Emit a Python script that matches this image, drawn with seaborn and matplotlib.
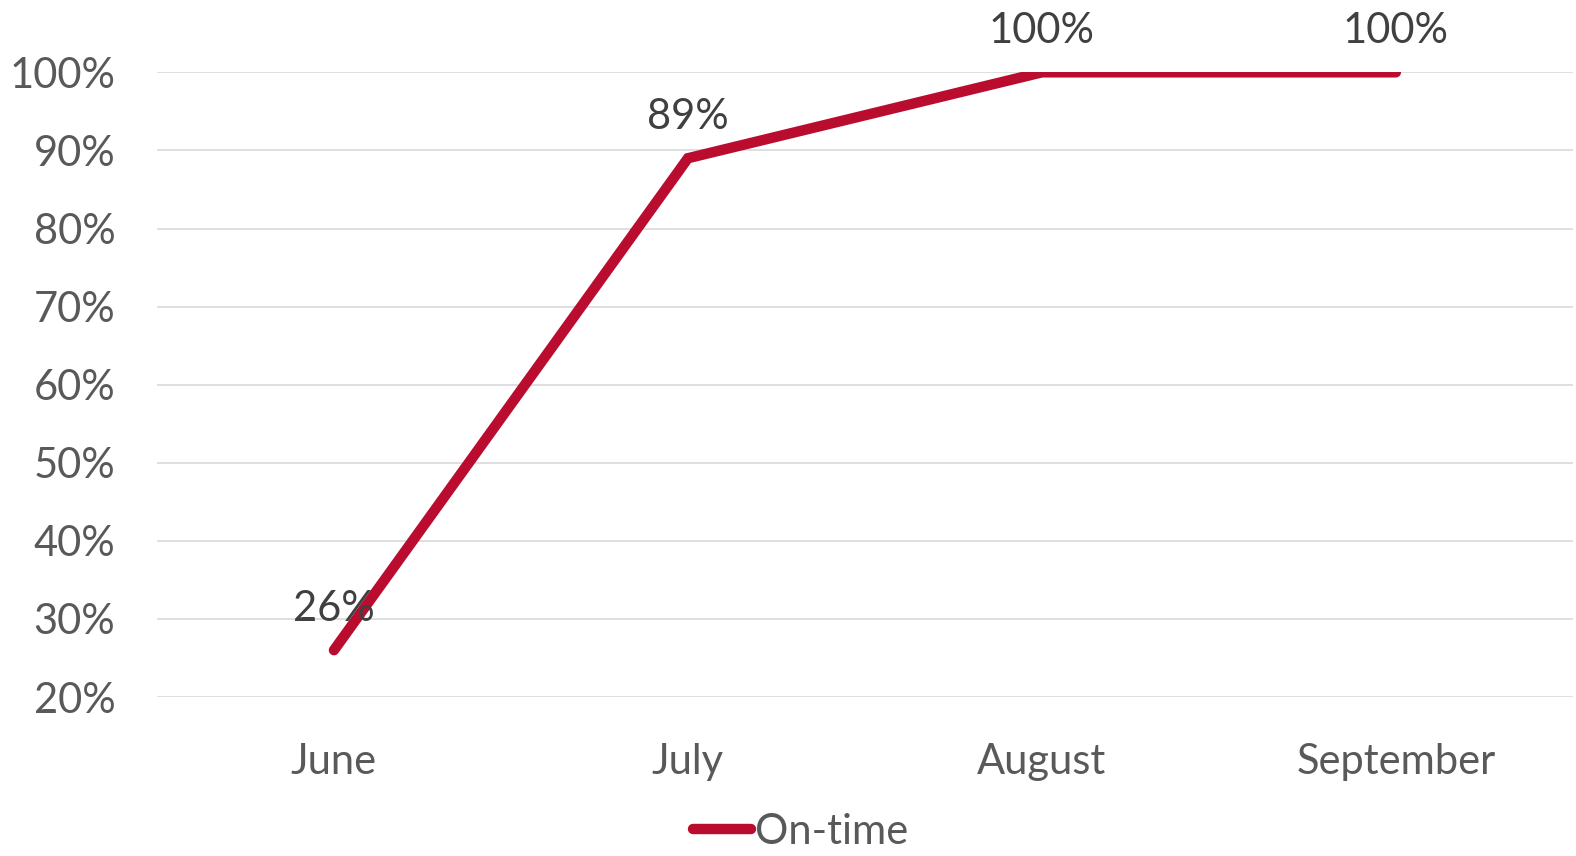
import pandas as pd
import matplotlib
matplotlib.use('Agg')
import matplotlib.pyplot as plt
import seaborn as sns

months = ['June', 'July', 'August', 'September']
on_time = [26, 89, 100, 100]
y_ticks = [20, 30, 40, 50, 60, 70, 80, 90, 100]

df = pd.DataFrame({'month': months, 'On-time': on_time})

sns.set_style('white')
plt.rcParams['font.family'] = ['Lato', 'DejaVu Sans']

red = '#BA0C2F'
grey = '#595959'
fs = 30

fig = plt.figure(figsize=(15.76, 8.56), dpi=100)
ax = fig.add_axes([0.0996, 0.1857, 0.8984, 0.7298])

sns.lineplot(data=df, x='month', y='On-time', ax=ax, color=red, linewidth=7.5,
             solid_capstyle='round', solid_joinstyle='miter', label='On-time',
             legend=False, sort=False)

# data labels above each point
for i, v in enumerate(on_time):
    ax.annotate(f'{v}%', (i, v), xytext=(0, 30), textcoords='offset points',
                ha='center', va='center', fontsize=fs, color='#404040')

ax.set_xlim(-0.5, 3.5)
ax.set_ylim(20, 100)
ax.set_yticks(y_ticks)
ax.set_yticklabels([f'{t}%' for t in y_ticks])
ax.yaxis.grid(True, color='#D9D9D9', linewidth=1.2)
ax.set_axisbelow(True)
ax.tick_params(axis='y', length=0, pad=30, labelsize=fs, labelcolor=grey)
ax.tick_params(axis='x', length=0, pad=33, labelsize=fs, labelcolor=grey)
ax.set_xlabel('')
ax.set_ylabel('')
for s in ax.spines.values():
    s.set_visible(False)

handles, labels = ax.get_legend_handles_labels()
leg = fig.legend(handles, labels, loc='lower center', bbox_to_anchor=(0.508, -0.038),
                 frameon=False, fontsize=fs, handlelength=1.4, handletextpad=0.1)
for t in leg.get_texts():
    t.set_color(grey)

fig.savefig('out.png', dpi=100)
